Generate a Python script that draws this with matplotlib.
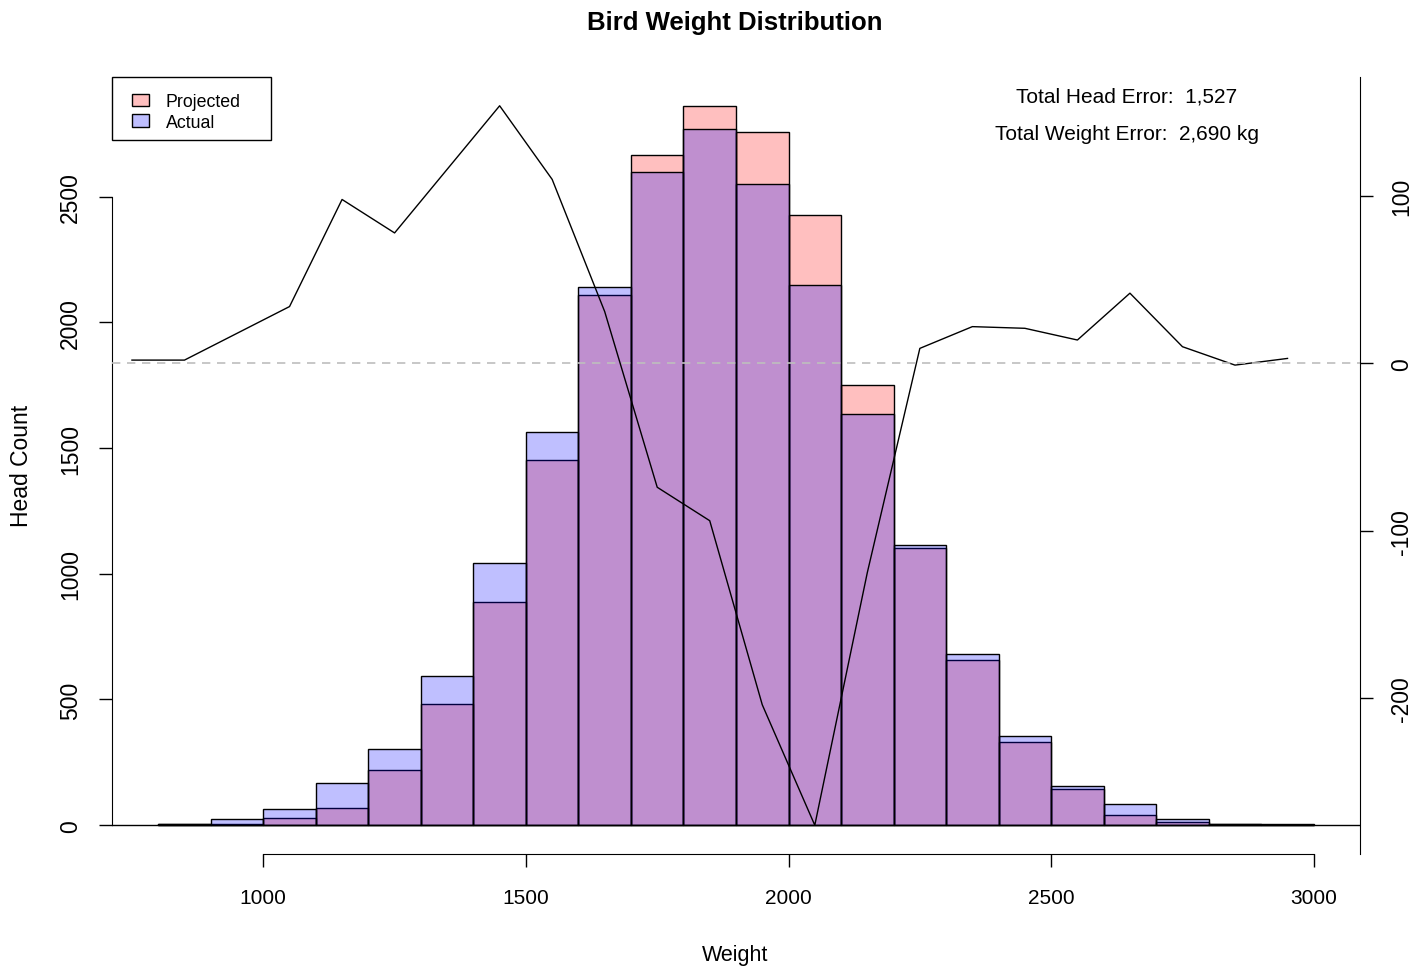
import matplotlib
matplotlib.use("Agg")
import matplotlib.pyplot as plt
from matplotlib.patches import Patch, Rectangle

plt.rcParams['font.family'] = ['Liberation Sans', 'DejaVu Sans']
plt.rcParams['axes.unicode_minus'] = False

# histogram bins (weight, lower edge) and counts
bin_left = [800, 900, 1000, 1100, 1200, 1300, 1400, 1500, 1600, 1700, 1800,
            1900, 2000, 2100, 2200, 2300, 2400, 2500, 2600, 2700, 2800, 2900]
bin_width = 100
projected = [3, 5, 29, 70, 220, 484, 886, 1453, 2107, 2667, 2861,
             2756, 2428, 1752, 1102, 658, 332, 143, 39, 12, 3, 2]
actual = [4, 23, 64, 167, 303, 594, 1043, 1565, 2142, 2598, 2767,
          2550, 2148, 1635, 1115, 682, 354, 155, 86, 23, 4, 3]

# error line (right axis)
err_x = [750, 850, 950, 1050, 1150, 1250, 1350, 1450, 1550, 1650, 1750, 1850,
         1950, 2050, 2150, 2250, 2350, 2450, 2550, 2650, 2750, 2850, 2950]
err_y = [2, 2, 18, 34, 98, 78, 116, 154, 110, 31, -74, -94,
         -204, -276, -125, 9, 22, 21, 14, 42, 10, -1, 3]

left_ticks = [0, 500, 1000, 1500, 2000, 2500]
x_ticks = [1000, 1500, 2000, 2500, 3000]
right_ticks = [-200, -100, 0, 100]

W, H = 1415, 970
fig = plt.figure(figsize=(W / 100, H / 100), dpi=100)
ax = fig.add_axes([112 / W, 1 - 855 / H, (1360 - 112) / W, (855 - 78) / H])

ax.bar(bin_left, projected, width=bin_width, align='edge',
       facecolor=(1, 0, 0, 0.25), edgecolor='black', linewidth=1)
ax.bar(bin_left, actual, width=bin_width, align='edge',
       facecolor=(0, 0, 1, 0.25), edgecolor='black', linewidth=1)
ax.axhline(0, color='black', linewidth=1)

lo_x, hi_x = bin_left[0], bin_left[-1] + bin_width
padx = 0.04 * (hi_x - lo_x)
ax.set_xlim(lo_x - padx, hi_x + padx)
top = max(max(projected), max(actual))
ax.set_ylim(-0.04 * top, top * 1.04)

for s in ['top', 'right']:
    ax.spines[s].set_visible(False)
ax.spines['left'].set_bounds(left_ticks[0], left_ticks[-1])
ax.spines['bottom'].set_bounds(x_ticks[0], x_ticks[-1])
ax.set_yticks(left_ticks)
ax.set_xticks(x_ticks)
ax.tick_params(axis='both', direction='out', length=9.5, width=1, labelsize=15)
ax.tick_params(axis='x', pad=15)
ax.tick_params(axis='y', pad=12)
for lab in ax.get_yticklabels():
    lab.set_rotation(90)
    lab.set_va('center')
    lab.set_fontsize(16.5)

# legend (R style box)
leg = fig.legend(handles=[Patch(facecolor=(1, 0, 0, 0.25), edgecolor='black', label='Projected'),
                          Patch(facecolor=(0, 0, 1, 0.25), edgecolor='black', label='Actual')],
                 loc='upper left', bbox_to_anchor=(132 / W, 1 - 94 / H),
                 bbox_transform=fig.transFigure, borderaxespad=0, borderpad=0,
                 frameon=False, fontsize=12.8, labelspacing=0.2, handlelength=0.95,
                 handleheight=0.7, handletextpad=0.95)
fig.add_artist(Rectangle((112 / W, 1 - 141 / H), 159 / W, 63 / H,
                         transform=fig.transFigure, fill=False,
                         edgecolor='black', linewidth=1))

tw = ax.twinx()
tw.plot(err_x, err_y, color='black', linewidth=1)
tw.axhline(0, color='#BEBEBE', linewidth=1.2, linestyle=(0, (5, 4)))
lo_e, hi_e = min(err_y), max(err_y)
pade = 0.04 * (hi_e - lo_e)
tw.set_ylim(lo_e - pade, hi_e + pade)
tw.set_xlim(ax.get_xlim())
for s in ['top', 'left', 'bottom']:
    tw.spines[s].set_visible(False)
tw.set_yticks(right_ticks)
tw.tick_params(axis='y', direction='out', length=9.5, width=1, labelsize=16.5, pad=12)
for lab in tw.get_yticklabels():
    lab.set_rotation(90)
    lab.set_va('center')

fig.text(735 / W, 1 - 23 / H, 'Bird Weight Distribution', ha='center', va='center',
         fontsize=18.5, fontweight='bold')
fig.text(735 / W, 1 - 956 / H, 'Weight', ha='center', va='center', fontsize=15.5)
fig.text(22 / W, 1 - 466 / H, 'Head Count', ha='center', va='center',
         rotation=90, fontsize=16.5)
fig.text(1127 / W, 1 - 97 / H, 'Total Head Error:  1,527', ha='center', va='center',
         fontsize=15)
fig.text(1127 / W, 1 - 135 / H, 'Total Weight Error:  2,690 kg', ha='center',
         va='center', fontsize=15)

fig.savefig('out.png', dpi=100)
